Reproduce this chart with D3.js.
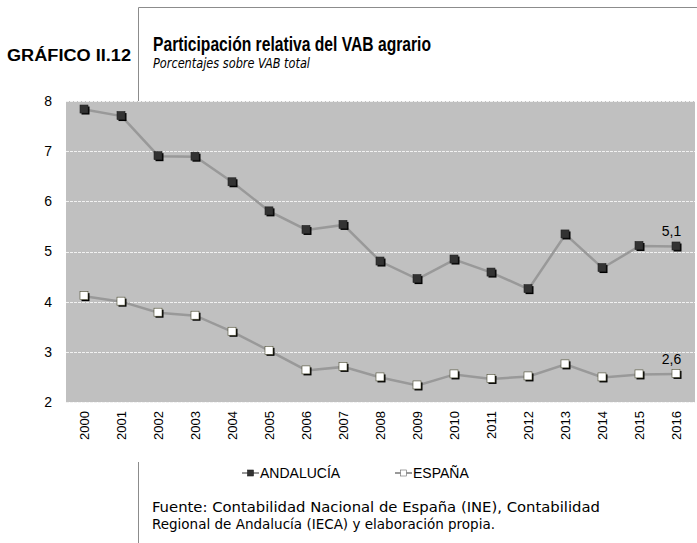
<!DOCTYPE html>
<html>
<head>
<meta charset="utf-8">
<script src="https://cdn.jsdelivr.net/npm/d3@7"></script>
<style>
  body { margin: 0; background: #fff; }
  svg { display: block; }
</style>
</head>
<body>
<div id="chart"></div>
<script>
const years = ['2000','2001','2002','2003','2004','2005','2006','2007','2008','2009','2010','2011','2012','2013','2014','2015','2016'];
const andalucia = [7.83, 7.70, 6.90, 6.89, 6.38, 5.80, 5.43, 5.53, 4.80, 4.45, 4.84, 4.58, 4.25, 5.34, 4.67, 5.11, 5.10];
const espana = [4.11, 4.00, 3.78, 3.72, 3.40, 3.02, 2.63, 2.70, 2.49, 2.33, 2.55, 2.46, 2.51, 2.75, 2.49, 2.55, 2.56];
const yTicks = [2, 3, 4, 5, 6, 7, 8];
const seriesNames = ['ANDALUCÍA', 'ESPAÑA'];
const lastLabels = ['5,1', '2,6'];

const width = 697, height = 543;
const plot = {left: 66, right: 695, top: 101, bottom: 402};
const sans = 'Arial, "Liberation Sans", Helvetica, sans-serif';
const cond = '"DejaVu Sans Condensed", "DejaVu Sans", sans-serif';

const svg = d3.select('#chart').append('svg')
  .attr('width', width)
  .attr('height', height);

// frame round the header and footer
const frame = svg.append('g').attr('stroke', '#8c8c8c').attr('stroke-width', 1).attr('fill', 'none');
frame.append('path').attr('d', 'M138.5,' + plot.top + 'V7.5H' + width);
frame.append('line').attr('x1', 138.5).attr('x2', 138.5).attr('y1', 462).attr('y2', height);

svg.append('text')
  .attr('x', 7).attr('y', 61)
  .style('font-family', sans)
  .attr('font-weight', 'bold').attr('font-size', 16)
  .attr('textLength', 124).attr('lengthAdjust', 'spacingAndGlyphs')
  .text('GRÁFICO II.12');

svg.append('text')
  .attr('x', 153).attr('y', 51)
  .style('font-family', sans)
  .attr('font-weight', 'bold').attr('font-size', 20)
  .attr('textLength', 278).attr('lengthAdjust', 'spacingAndGlyphs')
  .text('Participación relativa del VAB agrario');

svg.append('text')
  .attr('x', 153).attr('y', 68)
  .style('font-family', cond)
  .attr('font-style', 'italic').attr('font-size', 14.5)
  .attr('textLength', 157).attr('lengthAdjust', 'spacingAndGlyphs')
  .text('Porcentajes sobre VAB total');

const x = d3.scaleBand().domain(years).range([plot.left, plot.right]);
const y = d3.scaleLinear().domain([2, 8]).range([plot.bottom, plot.top]);

svg.append('rect')
  .attr('x', plot.left).attr('y', plot.top)
  .attr('width', plot.right - plot.left).attr('height', plot.bottom - plot.top)
  .attr('fill', '#c0c0c0');

// grid
svg.append('g')
  .selectAll('line')
  .data(yTicks)
  .enter().append('line')
    .attr('x1', plot.left).attr('x2', plot.right)
    .attr('y1', d => Math.round(y(d)) + 0.5).attr('y2', d => Math.round(y(d)) + 0.5)
    .attr('stroke', '#f2f2f2').attr('stroke-width', 1)
    .attr('stroke-dasharray', '3,1');

// y axis
const yAxis = d3.axisLeft(y).tickValues(yTicks).tickFormat(d3.format('d')).tickSize(0).tickPadding(14);
const yg = svg.append('g')
  .attr('transform', 'translate(' + plot.left + ',0)')
  .call(yAxis);
yg.select('.domain').remove();
yg.selectAll('text')
  .style('font-family', sans)
  .attr('font-size', 14).attr('fill', '#000');

// x axis
const xAxis = d3.axisBottom(x).tickSize(0);
const xg = svg.append('g')
  .attr('transform', 'translate(0,' + plot.bottom + ')')
  .call(xAxis);
xg.select('.domain').remove();
xg.selectAll('text')
  .style('font-family', sans)
  .attr('font-size', 13).attr('fill', '#000')
  .attr('text-anchor', 'end')
  .attr('transform', 'rotate(-90)')
  .attr('x', -9).attr('y', 0).attr('dy', '0.35em');

const cx = d => x(d) + x.bandwidth() / 2;
const line = d3.line().x((d, i) => cx(years[i])).y(d => y(d));

const series = [
  {name: seriesNames[0], values: andalucia, fill: '#333333', shadow: '#000', stroke: '#222'},
  {name: seriesNames[1], values: espana, fill: '#ffffff', shadow: '#000', stroke: '#4a4a30'}
];

series.forEach((s, k) => {
  svg.append('path')
    .datum(s.values)
    .attr('d', line)
    .attr('fill', 'none')
    .attr('stroke', '#999999')
    .attr('stroke-width', 2.5);

  const g = svg.append('g');
  g.selectAll('rect.shadow')
    .data(s.values)
    .enter().append('rect')
      .attr('class', 'shadow')
      .attr('x', (d, i) => cx(years[i]) - 3)
      .attr('y', d => y(d) - 3)
      .attr('width', 8).attr('height', 8)
      .attr('fill', s.shadow);
  g.selectAll('rect.mark')
    .data(s.values)
    .enter().append('rect')
      .attr('class', 'mark')
      .attr('x', (d, i) => cx(years[i]) - 4.5)
      .attr('y', d => y(d) - 4.5)
      .attr('width', 8).attr('height', 8)
      .attr('fill', s.fill)
      .attr('stroke', s.stroke).attr('stroke-width', 0.6);

  const last = s.values.length - 1;
  svg.append('text')
    .attr('x', cx(years[last]) - 5)
    .attr('y', y(s.values[last]) - 10)
    .attr('text-anchor', 'middle')
    .style('font-family', sans)
    .attr('font-size', 14)
    .text(lastLabels[k]);
});

// legend
const legendX = [242, 395];
const legend = svg.append('g');
series.forEach((s, k) => {
  const lg = legend.append('g').attr('transform', 'translate(' + legendX[k] + ',473)');
  lg.append('line').attr('x1', 0).attr('x2', 17).attr('y1', 0).attr('y2', 0)
    .attr('stroke', '#999999').attr('stroke-width', 2);
  lg.append('rect').attr('x', 5.5).attr('y', -3).attr('width', 6).attr('height', 6)
    .attr('fill', s.fill).attr('stroke', k === 0 ? '#222' : '#666').attr('stroke-width', 0.6);
  lg.append('text')
    .attr('x', 18).attr('y', 0).attr('dy', '0.36em')
    .style('font-family', sans)
    .attr('font-size', 14)
    .text(s.name);
});

// source note
const note = svg.append('g')
  .style('font-family', cond)
  .attr('font-size', 14.5);
note.append('text').attr('x', 152).attr('y', 512)
  .attr('textLength', 448).attr('lengthAdjust', 'spacingAndGlyphs')
  .text('Fuente: Contabilidad Nacional de España (INE), Contabilidad');
note.append('text').attr('x', 152).attr('y', 529)
  .attr('textLength', 343).attr('lengthAdjust', 'spacingAndGlyphs')
  .text('Regional de Andalucía (IECA) y elaboración propia.');
</script>
</body>
</html>
